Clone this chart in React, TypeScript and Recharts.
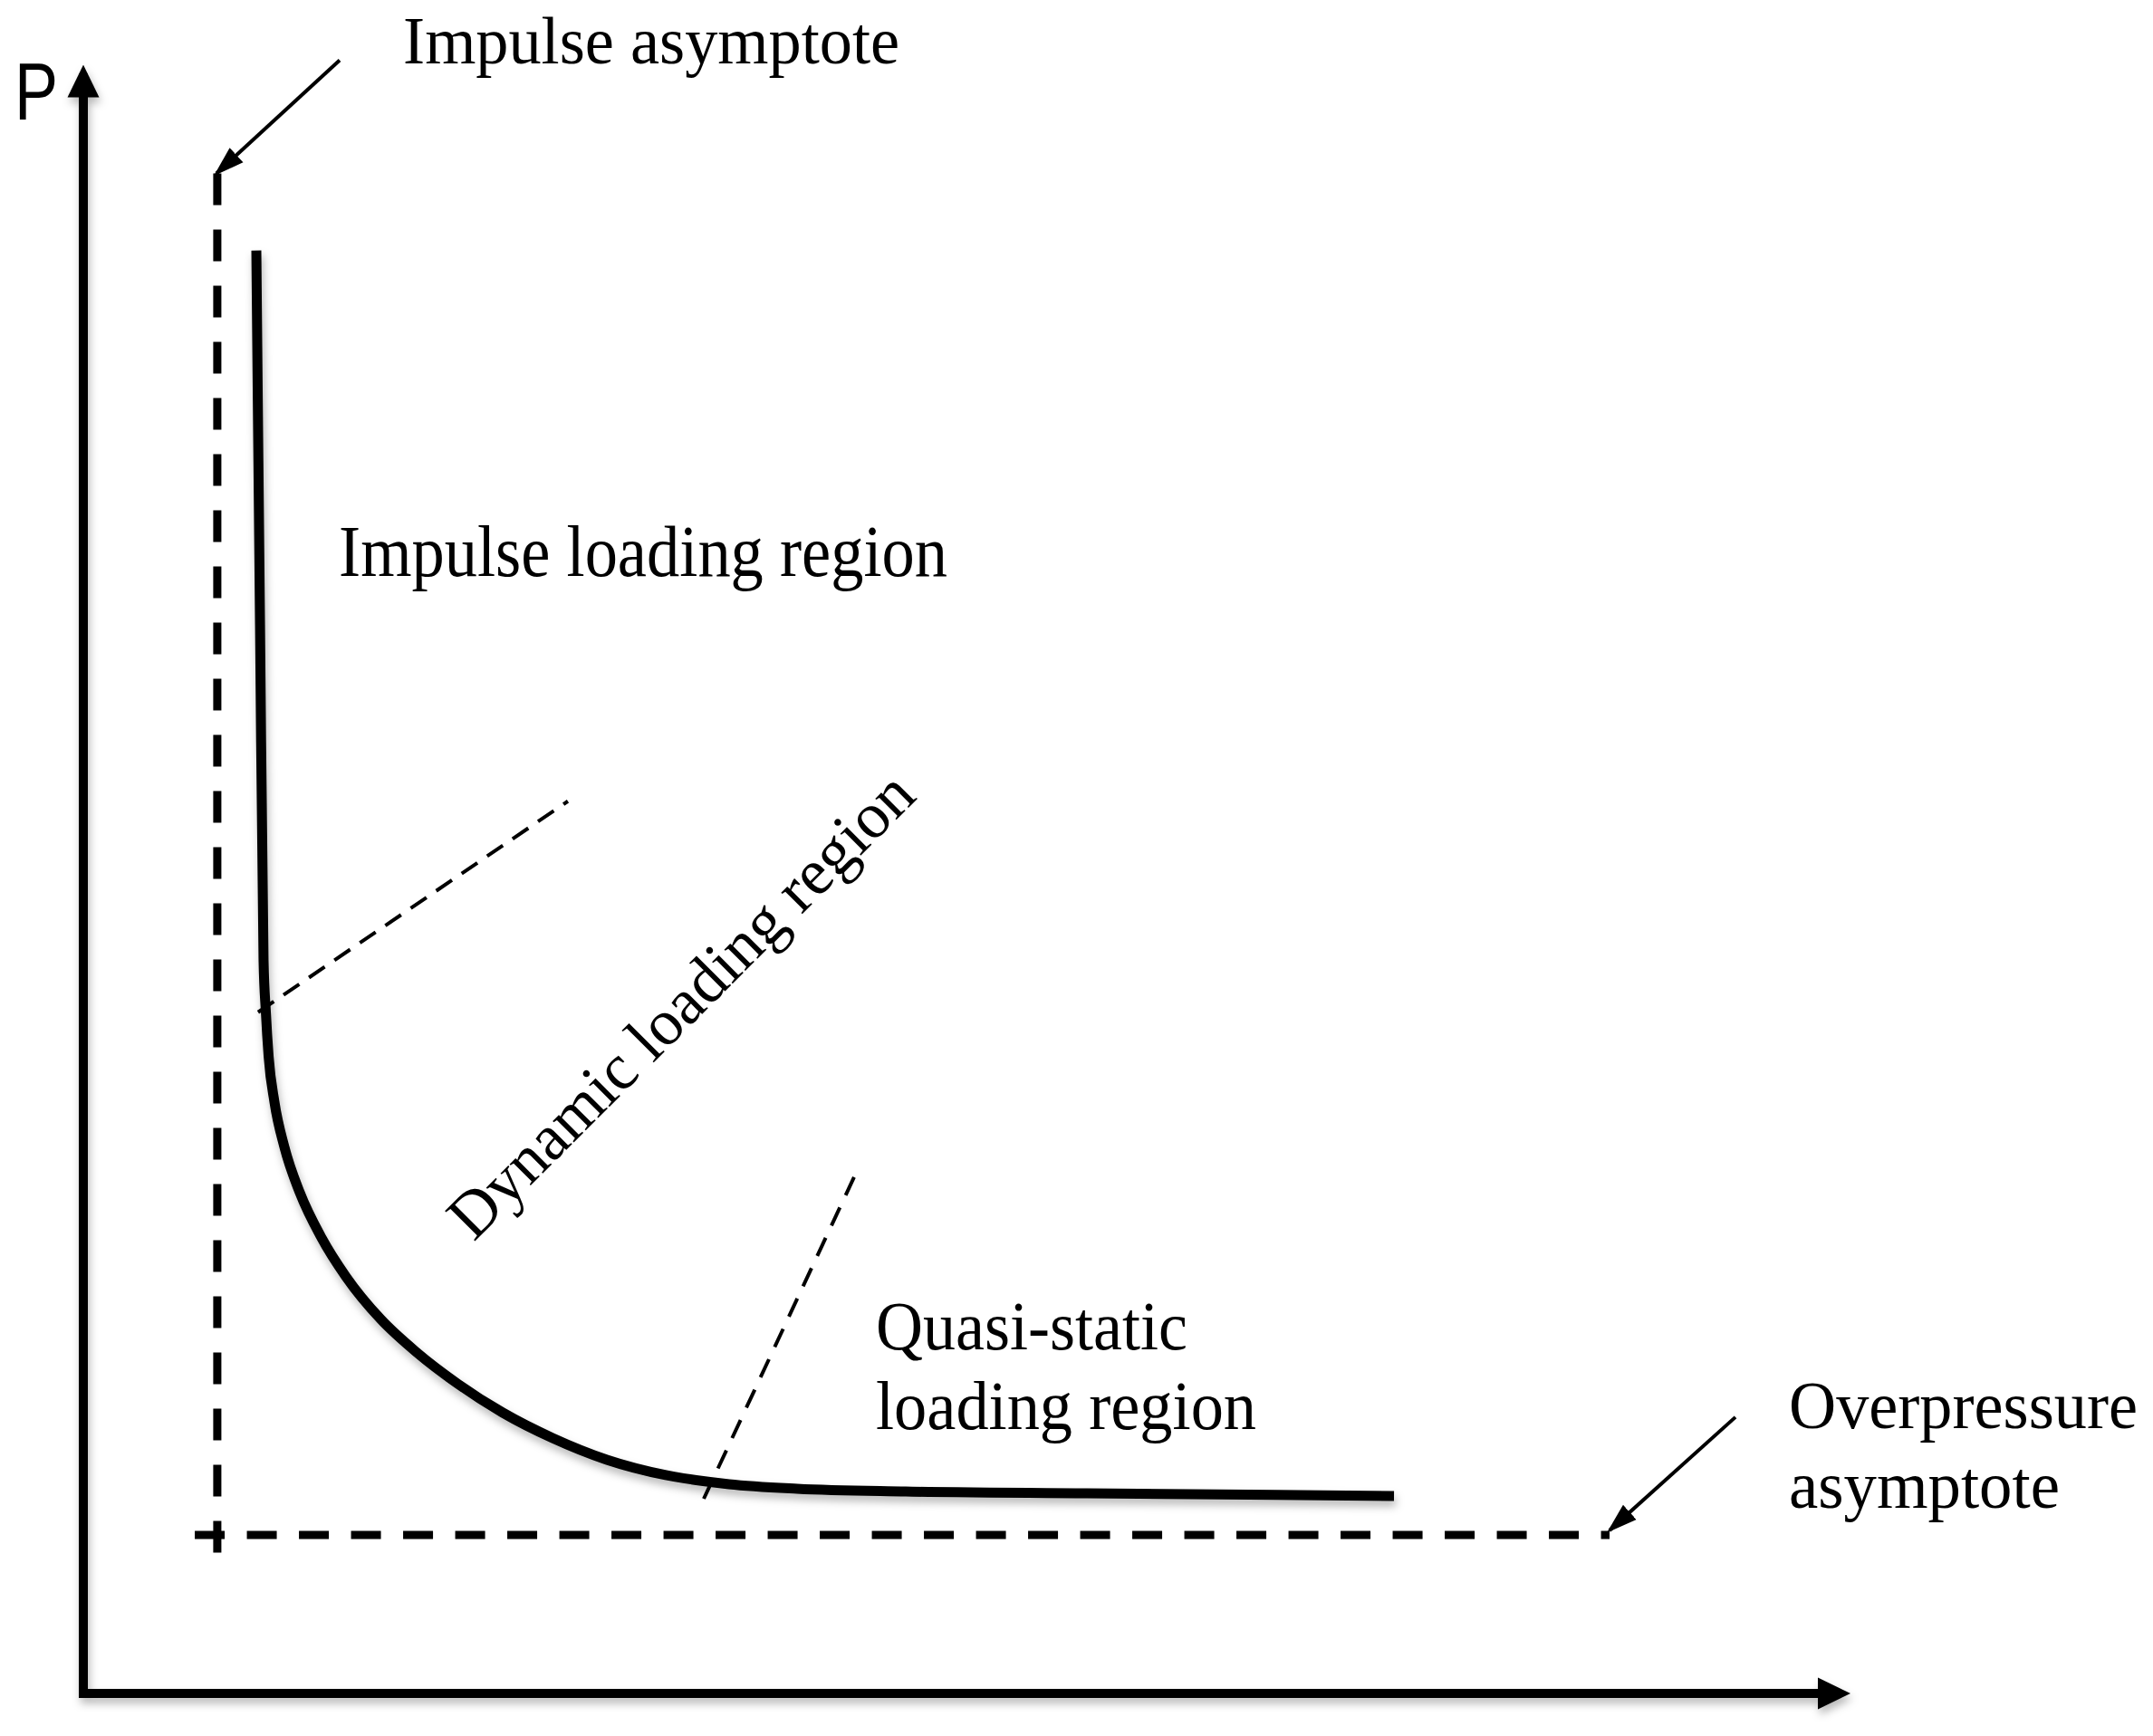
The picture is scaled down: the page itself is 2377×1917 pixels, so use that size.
import React from "react";
import { LineChart, Line, XAxis, YAxis, ReferenceDot } from "recharts";

/**
 * Pressure–impulse (P–I) diagram: loading regions of a structure
 * with the impulse and overpressure asymptotes.
 * Units are arbitrary: x = impulse, y = pressure, axes run 0..100.
 */

const CHART_W = 2377;
const CHART_H = 1917;

// main iso-damage curve
const curveImpulse = [9.84, 10.05, 10.25, 10.38, 10.54, 10.87, 11.44, 12.31, 13.55, 14.94, 16.92, 18.99, 21.28, 23.85, 26.69, 29.78, 33.13, 36.73, 40.6, 46.78, 57.08, 74.55];
const curvePressure = [89.09, 65.99, 45.3, 42.11, 39.32, 36.52, 33.72, 30.93, 28.13, 25.73, 23.1, 21.03, 19.13, 17.34, 15.77, 14.43, 13.48, 12.92, 12.64, 12.47, 12.36, 12.19];

// axes drawn as one polyline (P axis top -> origin -> impulse axis end)
const axisImpulse = [0, 0, 100];
const axisPressure = [100, 0, 0];

// asymptotes
const impulseAsymX = [7.62, 7.62];
const impulseAsymY = [93.85, 8.5];
const overpressureAsymX = [6.34, 86.81];
const overpressureAsymY = [9.79, 9.79];

// region boundaries
const impulseDynamicX = [9.94, 27.56];
const impulseDynamicY = [42.06, 55.09];
const dynamicQuasiX = [35.29, 43.84];
const dynamicQuasiY = [12.02, 31.88];

// annotation arrows (tail -> head)
const impulseArrowX = [14.58, 7.57];
const impulseArrowY = [100.84, 93.85];
const overpressureArrowX = [93.97, 86.81];
const overpressureArrowY = [17.06, 10.07];

const SERIF = "'Liberation Serif', 'Times New Roman', serif";
const SANS = "'Liberation Sans', Arial, sans-serif";

interface Annotation {
  text: string;
  x: number;
  y: number;
  fontSize: number;
  textLength: number;
  rotate?: number;
  family?: string;
}

// text labels: anchor is the baseline start, in data units
const annotations: Annotation[] = [
  { text: "P", x: -3.92, y: 97.2, fontSize: 89, textLength: 48, family: SANS },
  { text: "Impulse asymptote", x: 18.19, y: 100.67, fontSize: 73, textLength: 548 },
  { text: "Impulse loading region", x: 14.53, y: 69.02, fontSize: 80, textLength: 672 },
  { text: "Dynamic loading region", x: 22.21, y: 27.85, fontSize: 72, textLength: 694, rotate: -45 },
  { text: "Quasi-static", x: 45.08, y: 21.25, fontSize: 76, textLength: 344 },
  { text: "loading region", x: 45.08, y: 16.33, fontSize: 76, textLength: 420 },
  { text: "Overpressure", x: 97.01, y: 16.39, fontSize: 74, textLength: 385 },
  { text: "asymptote", x: 97.01, y: 11.47, fontSize: 74, textLength: 299 },
];

function zip(xs: number[], ys: number[]) {
  return xs.map((x, i) => ({ x, y: ys[i] }));
}

function renderAnnotation(a: Annotation) {
  return (props: any) => {
    const vb = props.viewBox || {};
    const x = (vb.x ?? 0) + (vb.width ?? 0) / 2;
    const y = (vb.y ?? 0) + (vb.height ?? 0) / 2;
    return (
      <text
        x={x}
        y={y}
        fill="#000"
        fontSize={a.fontSize}
        fontFamily={a.family ?? SERIF}
        textLength={a.textLength}
        lengthAdjust="spacingAndGlyphs"
        transform={a.rotate ? `rotate(${a.rotate} ${x} ${y})` : undefined}
      >
        {a.text}
      </text>
    );
  };
}

const common = {
  type: "linear" as const,
  dataKey: "y",
  stroke: "#000",
  dot: false,
  activeDot: false,
  isAnimationActive: false,
};

export default function App() {
  return (
    <div style={{ position: "absolute", left: 0, top: 0, width: CHART_W, height: CHART_H, background: "#fff" }}>
      <style>{`.pi-shadow .recharts-line-curve { filter: drop-shadow(2px 6px 5px rgba(0,0,0,0.28)); }`}</style>
      <svg width={0} height={0} style={{ position: "absolute" }}>
        <defs>
          <marker
            id="axisHead"
            viewBox="0 -18 36 36"
            refX={26}
            refY={0}
            markerWidth={36}
            markerHeight={36}
            markerUnits="userSpaceOnUse"
            orient="auto-start-reverse"
          >
            <path d="M0,-17.5L36,0L0,17.5Z" fill="#000" />
          </marker>
          <marker
            id="thinHead"
            viewBox="0 -12 34 24"
            refX={30}
            refY={0}
            markerWidth={34}
            markerHeight={24}
            markerUnits="userSpaceOnUse"
            orient="auto"
          >
            <path d="M0,-11L34,0L0,11Z" fill="#000" />
          </marker>
        </defs>
      </svg>
      <LineChart width={CHART_W} height={CHART_H} margin={{ top: 10, right: 14, bottom: 47, left: 92 }}>
        <XAxis type="number" dataKey="x" domain={[0, 117]} hide />
        <YAxis type="number" dataKey="y" domain={[0, 104]} hide />

        {/* axes */}
        <Line
          {...common}
          className="pi-shadow"
          data={zip(axisImpulse, axisPressure)}
          strokeWidth={10}
          strokeLinejoin="miter"
          markerStart="url(#axisHead)"
          markerEnd="url(#axisHead)"
        />

        {/* asymptotes */}
        <Line {...common} data={zip(impulseAsymX, impulseAsymY)} strokeWidth={9} strokeDasharray="35 27" />
        <Line {...common} data={zip(overpressureAsymX, overpressureAsymY)} strokeWidth={9} strokeDasharray="33 24.5" />

        {/* region boundaries */}
        <Line {...common} data={zip(impulseDynamicX, impulseDynamicY)} strokeWidth={4} strokeDasharray="21 13" />
        <Line {...common} data={zip(dynamicQuasiX, dynamicQuasiY)} strokeWidth={4} strokeDasharray="22 15" />

        {/* P-I curve */}
        <Line
          {...common}
          type="monotone"
          className="pi-shadow"
          data={zip(curveImpulse, curvePressure)}
          strokeWidth={11}
        />

        {/* pointer arrows */}
        <Line {...common} data={zip(impulseArrowX, impulseArrowY)} strokeWidth={4} markerEnd="url(#thinHead)" />
        <Line {...common} data={zip(overpressureArrowX, overpressureArrowY)} strokeWidth={4} markerEnd="url(#thinHead)" />

        {annotations.map((a) => (
          <ReferenceDot
            key={a.text}
            x={a.x}
            y={a.y}
            r={0}
            fill="none"
            stroke="none"
            ifOverflow="visible"
            label={{ content: renderAnnotation(a) }}
          />
        ))}
      </LineChart>
    </div>
  );
}
